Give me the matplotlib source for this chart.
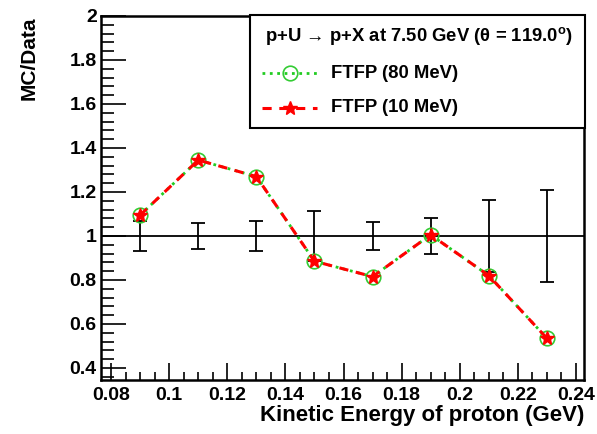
import matplotlib
matplotlib.use("Agg")
import matplotlib.pyplot as plt
from matplotlib.ticker import MultipleLocator, FormatStrFormatter
from matplotlib.lines import Line2D
from matplotlib.patches import Rectangle

plt.rcParams['font.family'] = ['Liberation Sans', 'DejaVu Sans']
plt.rcParams['font.weight'] = 'bold'

# Kinetic energy bin centres (GeV)
energy = [0.09, 0.11, 0.13, 0.15, 0.17, 0.19, 0.21, 0.23]
# MC/Data ratios for the two FTFP variants
ftfp_80 = [1.095, 1.345, 1.27, 0.885, 0.815, 1.005, 0.82, 0.535]
ftfp_10 = [1.095, 1.345, 1.27, 0.885, 0.815, 1.005, 0.82, 0.535]
# Relative data uncertainty around unity
data_ratio = [1, 1, 1, 1, 1, 1, 1, 1]
data_err = [0.07, 0.06, 0.07, 0.115, 0.065, 0.08, 0.165, 0.21]

legend_title = 'p+U → p+X at 7.50 GeV (θ = 119.0$^{\\mathregular{o}}$)'
legend_labels = ['FTFP (80 MeV)', 'FTFP (10 MeV)']

W, H = 597, 434
fig = plt.figure(figsize=(W / 100, H / 100), dpi=100)
ax = fig.add_axes([101 / W, 1 - 380 / H, 483 / W, 364 / H])

ax.set_xlim(0.0765, 0.2428)
ax.set_ylim(0.345, 2.0)

ax.axhline(1.0, color='black', lw=1.3, zorder=2)
ax.errorbar(energy, data_ratio, yerr=data_err, fmt='none', ecolor='black',
            elinewidth=1.3, capsize=5, capthick=1.3, zorder=3)

green_style = dict(color='#22cc22', ls=':', lw=2, marker='o', ms=10.5,
                   mfc='none', mec='#33cc33', mew=1.2)
red_style = dict(color='red', ls=(0, (3, 2.5)), lw=2.2, marker='*',
                 ms=10, mfc='red', mec='red')

ax.plot(energy, ftfp_80, zorder=4, **green_style)
ax.plot(energy, ftfp_10, zorder=5, **red_style)

for s in ['left', 'bottom', 'right', 'top']:
    ax.spines[s].set_linewidth(1.8)

ax.xaxis.set_major_locator(MultipleLocator(0.02))
ax.xaxis.set_minor_locator(MultipleLocator(0.005))
ax.yaxis.set_major_locator(MultipleLocator(0.2))
ax.yaxis.set_minor_locator(MultipleLocator(0.04))
ax.xaxis.set_major_formatter(FormatStrFormatter('%g'))
ax.yaxis.set_major_formatter(FormatStrFormatter('%g'))

ax.tick_params(axis='both', which='both', direction='in', top=False, right=False,
               labelsize=14, width=1.2)
ax.tick_params(axis='x', which='major', length=12, pad=5)
ax.tick_params(axis='x', which='minor', length=6)
ax.tick_params(axis='y', which='major', length=18, pad=3)
ax.tick_params(axis='y', which='minor', length=9)

ax.set_xlabel('Kinetic Energy of proton (GeV)', fontsize=16, fontweight='bold',
              loc='right', labelpad=1)
ax.set_ylabel('MC/Data', fontsize=15, fontweight='bold', loc='top', labelpad=22)


# Legend box drawn in pixel-based figure coordinates
def fx(px):
    return px / W


def fy(py):
    return 1 - py / H


fig.add_artist(Rectangle((fx(250), fy(128)), fx(585) - fx(250), fy(15) - fy(128),
                         transform=fig.transFigure, facecolor='white',
                         edgecolor='black', lw=1.5, zorder=10))
fig.text(fx(265), fy(36), legend_title, fontsize=13.3, fontweight='bold',
         va='center', ha='left', zorder=11)
for row_y, style, label in [(73, green_style, legend_labels[0]),
                            (108, red_style, legend_labels[1])]:
    fig.add_artist(Line2D([fx(262), fx(290), fx(317)], [fy(row_y)] * 3,
                          transform=fig.transFigure, markevery=[1], zorder=11,
                          **style))
    fig.text(fx(331), fy(row_y), label, fontsize=13.3, fontweight='bold',
             va='center', ha='left', zorder=11)

fig.savefig('out.png', dpi=100)
